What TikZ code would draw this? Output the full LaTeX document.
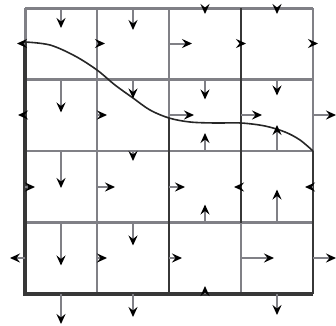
\documentclass[tikz,border=0pt]{standalone}
\usetikzlibrary{arrows.meta}
\definecolor{gridgray}{RGB}{128,128,134}
\definecolor{walldark}{RGB}{55,55,55}
\tikzset{
  gline/.style={draw=gridgray, line width=2.2pt},
  gouter/.style={draw=gridgray, line width=3pt},
  dline/.style={draw=walldark, line width=2.2pt},
  douter/.style={draw=walldark, line width=3.2pt},
  vel/.style={draw=gridgray, line width=2pt, -{Stealth[length=10pt,width=9pt,inset=3.5pt,black]}},
  iface/.style={draw=black!85, line width=1.6pt},
}
\begin{document}
\begin{tikzpicture}[x=1pt,y=-1pt]
\useasboundingbox (0,0) rectangle (336,325);
% grid lines (gray)
\draw[gouter] (25,8) -- (313,8);
\draw[gouter] (25,8) -- (25,42);
\draw[gline] (313,8) -- (313,151);
\foreach \y in {79.5,151,222.5} \draw[gline] (25,\y) -- (313,\y);
\draw[gline] (97,8) -- (97,294);
\draw[gline] (169,8) -- (169,118);
\draw[gline] (241,222.5) -- (241,294);
% dark wall lines
\draw[dline] (169,118) -- (169,294);
\draw[dline] (241,8) -- (241,222.5);
\draw[dline] (313,151) -- (313,294);
\draw[douter] (25,42) -- (25,294) -- (313,294);
% interface curve
\draw[iface] plot[smooth, tension=0.55] coordinates {(25,42) (50,45) (75,56) (97,70) (115,85) (133,98) (150,110) (169,118) (190,122) (215,123) (241,123) (265,126) (285,132) (300,140) (313,151)};
% top boundary arrows
\draw[vel] (61,8) -- ++(0,20);
\draw[vel] (133,8) -- ++(0,22);
\draw[vel] (205,8) -- ++(0,6);
\draw[vel] (277,8) -- ++(0,6);
% row 1 vertical edges
\draw[vel] (25,43.5) -- ++(-8,0);
\draw[vel] (97,43.5) -- ++(8,0);
\draw[vel] (169,43.5) -- ++(23,0);
\draw[vel] (241,43.5) -- ++(5,0);
\draw[vel] (313,43.5) -- ++(5,0);
% y=79.5 edges
\draw[vel] (61,79.5) -- ++(0,33);
\draw[vel] (133,79.5) -- ++(0,19);
\draw[vel] (205,79.5) -- ++(0,20);
\draw[vel] (277,79.5) -- ++(0,16);
% row 2 vertical edges
\draw[vel] (25,115) -- ++(-7,0);
\draw[vel] (97,115) -- ++(10,0);
\draw[vel] (169,115) -- ++(25,0);
\draw[vel] (241,115) -- ++(21,0);
\draw[vel] (313,115) -- ++(23,0);
% y=151 edges
\draw[vel] (61,151) -- ++(0,37);
\draw[vel] (133,151) -- ++(0,10);
\draw[vel] (205,151) -- ++(0,-18);
\draw[vel] (277,151) -- ++(0,-26);
% row 3 vertical edges
\draw[vel] (25,187) -- ++(10,0);
\draw[vel] (97,187) -- ++(18,0);
\draw[vel] (169,187) -- ++(16,0);
\draw[vel] (241,187) -- ++(-7,0);
\draw[vel] (313,187) -- ++(-8,0);
% y=222.5 edges
\draw[vel] (61,222.5) -- ++(0,43);
\draw[vel] (133,222.5) -- ++(0,23);
\draw[vel] (205,222.5) -- ++(0,-18);
\draw[vel] (277,222.5) -- ++(0,-33);
% row 4 vertical edges
\draw[vel] (25,258) -- ++(-15,0);
\draw[vel] (97,258) -- ++(10,0);
\draw[vel] (169,258) -- ++(13,0);
\draw[vel] (241,258) -- ++(33,0);
\draw[vel] (313,258) -- ++(23,0);
% bottom boundary arrows
\draw[vel] (61,294) -- ++(0,30);
\draw[vel] (133,294) -- ++(0,23);
\draw[vel] (205,294) -- ++(0,-8);
\draw[vel] (277,294) -- ++(0,21);
\end{tikzpicture}
\end{document}
